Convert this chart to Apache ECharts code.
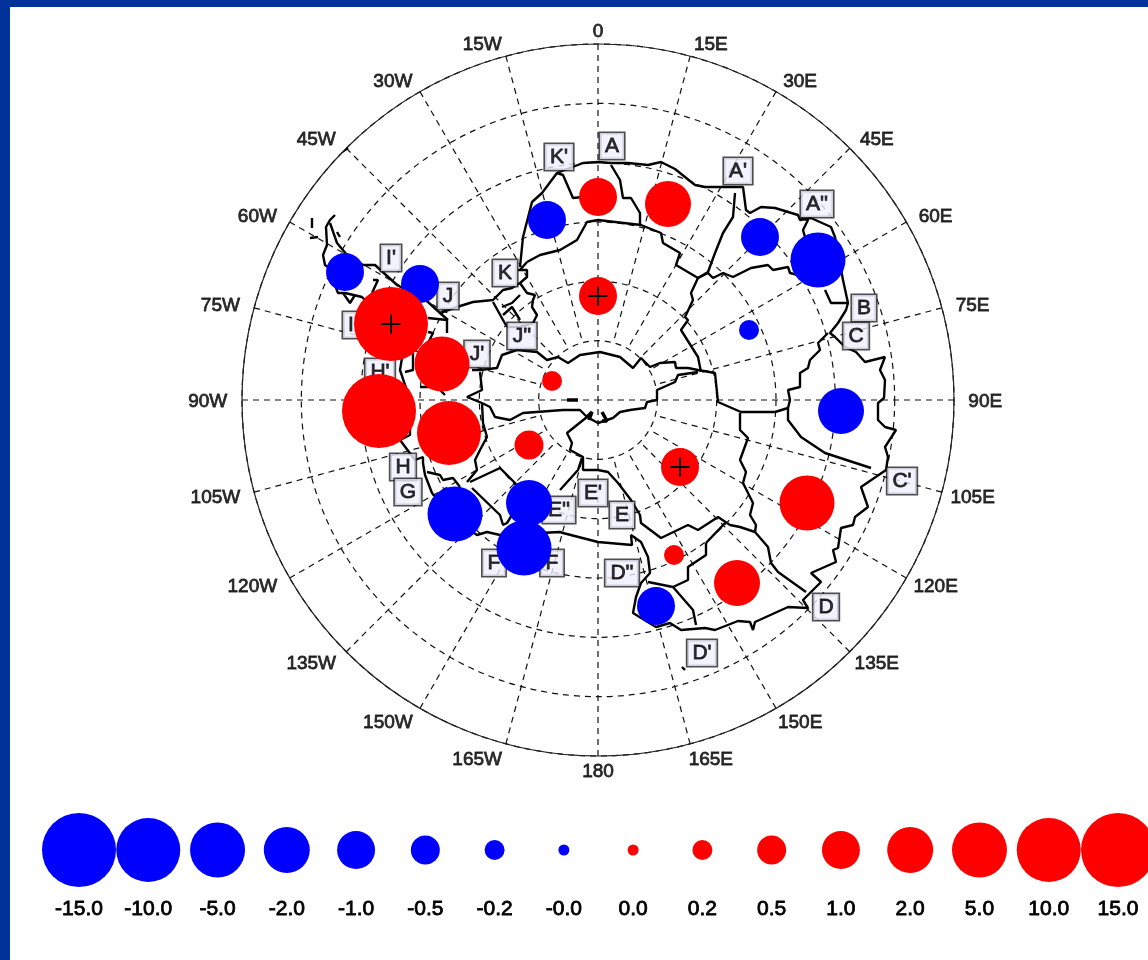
<!DOCTYPE html>
<html>
<head>
<meta charset="utf-8">
<title>Antarctic basins</title>
<script src="https://cdn.jsdelivr.net/npm/echarts@6/dist/echarts.min.js"></script>
<style>
html, body { margin: 0; padding: 0; background: #003399; }
#main { width: 1148px; height: 960px; }
</style>
</head>
<body>
<div id="main"></div>
<script>
// legend: value text, value, bubble diameter
var legendLabels = ['-15.0', '-10.0', '-5.0', '-2.0', '-1.0', '-0.5', '-0.2', '-0.0', '0.0', '0.2', '0.5', '1.0', '2.0', '5.0', '10.0', '15.0'];
var legendValues = [-15, -10, -5, -2, -1, -0.5, -0.2, -0.01, 0.01, 0.2, 0.5, 1, 2, 5, 10, 15];
var legendSizes = [74, 64, 55, 46, 38, 29, 20, 11, 11, 20, 29, 38, 46, 55, 64, 74];

// longitude labels, clockwise from 0
var lonLabels = ['0', '15E', '30E', '45E', '60E', '75E', '90E', '105E', '120E', '135E', '150E', '165E', '180', '165W', '150W', '135W', '120W', '105W', '90W', '75W', '60W', '45W', '30W', '15W'];

// map units: polar stereographic style x/y, outer ring (30 deg from the pole) is 356
var bubbleX = [0, 70, -51, 162, 220, 0, -253, -178, -207, -156, -46, 151, 243, -219, -149, -69, 82, 209, -143, -69, -74, 76, 139, 58];
var bubbleY = [203, 196, 180, 163, 140, 104, 128, 116, 76, 36, 19, 70, -11, -11, -33, -45, -67, -103, -114, -103, -148, -155, -183, -206];
var bubbleValues = [1, 2, -1, -1, -5, 1, -1, -1, 15, 5, 0.2, -0.2, -2, 15, 10, 0.5, 1, 5, -5, -2, -5, 0.2, 2, -1];
var significant = [5, 8, 16];

var basinNames = ['A', "K'", "A'", "A''", "I'", 'K', 'J', 'B', 'C', "J''", "J'", 'I', "H'", 'H', 'G', "E'", "E''", 'E', 'F', 'F', "D''", 'D', "D'", "C'"];
var basinX = [14, -39, 140, 219, -207, -93, -150, 266, 258, -76, -121, -247, -218, -195, -190, -5, -39, 24, -104, -46, 24, 228, 104, 304];
var basinY = [254, 243, 229, 196, 142, 127, 104, 92, 64, 64, 46, 75, 28, -67, -92, -93, -110, -115, -163, -163, -173, -207, -253, -81];

var coastEast = [[-15,237],[0,238],[13,237],[30,237],[50,235],[63,238],[77,231],[97,215],[107,213],[128,213],[138,213],[145,213],[148,190],[152,187],[163,193],[177,192],[200,185],[202,180],[213,182],[233,173],[237,163],[245,120],[250,97],[248,90],[240,77],[232,67],[237,63],[247,53],[258,48],[267,38],[287,43],[282,30],[287,20],[286,2],[280,-3],[280,-20],[287,-27],[298,-30],[287,-47],[290,-57],[288,-70],[263,-87],[270,-107],[257,-117],[255,-125],[243,-128],[240,-148],[235,-150],[238,-162],[213,-173],[223,-182],[205,-200],[210,-208],[190,-207],[157,-222],[155,-230],[152,-222],[140,-221],[117,-230],[107,-228],[83,-230],[72,-223],[58,-227],[35,-213],[38,-197],[43,-183],[52,-173],[50,-157],[43,-142],[33,-135],[34,-145],[0,-142],[-35,-133],[-38,-132],[-98,-135],[-111,-132],[-121,-135],[-143,-120],[-166,-93],[-173,-75],[-175,-63],[-175,-57],[-183,-60],[-198,-40],[-188,-35],[-188,0],[-198,30],[-193,60],[-236,103],[-253,107],[-260,107],[-270,133],[-273,135],[-275,145],[-271,155],[-272,173],[-268,180],[-263,185]];
var coastPeninsula = [[-268,177],[-261,157],[-251,145],[-235,135],[-223,135],[-201,115],[-170,98],[-158,87],[-141,93],[-125,98],[-105,100],[-95,110],[-86,112],[-78,117]];
var coastKing = [[-78,133],[-75,163],[-66,198],[-56,207],[-41,227],[-35,225],[-25,202],[-15,203]];
var coastKingTop = [[-41,227],[-15,237]];

var divideTop = [[-126,30],[-118,30],[-101,32],[-96,45],[-81,50],[-61,48],[-51,40],[-40,43],[-30,37],[-18,45],[2,48],[22,43],[35,32],[43,42],[52,33],[62,37],[77,38],[78,32],[90,32],[100,30],[117,27],[120,-2],[143,-12],[177,-12],[190,-8],[190,-20],[203,-37],[227,-53],[273,-68]];
var divideLow = [[-118,28],[-116,10],[-131,3],[-116,-3],[-108,-7],[-103,-17],[-88,-20],[-75,-13],[-35,-10],[-18,-10],[-11,-17],[0,-23],[15,-18],[22,-12],[32,-10],[47,-8],[49,-2],[59,0],[59,10],[77,18],[80,25],[100,28]];
var lineWest1 = [[-116,-3],[-115,-23],[-111,-37],[-118,-50],[-123,-60],[-121,-70],[-131,-82]];
var lineWest2 = [[-128,-82],[-98,-68],[-81,-85]];
var lineWest3 = [[-126,-88],[-98,-115],[-95,-125],[-91,-123],[-86,-115]];
var lineFG = [[-171,-72],[-158,-75],[-155,-80],[-145,-78],[-138,-87]];
var lineRoss = [[-11,-17],[-31,-33],[-26,-43],[-28,-50],[-15,-57],[-15,-70],[0,-70],[10,-72],[20,-83],[33,-100],[42,-115],[43,-123],[63,-138],[90,-125],[100,-130],[120,-117],[132,-125],[142,-127],[157,-132],[170,-147],[173,-163],[180,-172],[208,-192]];
var lineE = [[-16,-58],[-20,-70],[-38,-90]];
var lineD1 = [[108,-143],[127,-123]];
var lineD2 = [[108,-143],[108,-155],[90,-167],[90,-180],[75,-187],[50,-182]];
var lineD3 = [[75,-187],[95,-210],[98,-225]];
var lineC1 = [[142,-13],[142,-30],[150,-38],[142,-60],[148,-72],[145,-83],[155,-103],[152,-115],[158,-125],[157,-132]];
var lineC2 = [[230,67],[220,57],[222,50],[212,40],[210,32],[202,27],[202,13],[190,10],[192,0],[190,-8]];
var lineB = [[100,122],[93,107],[95,100],[87,83],[90,80],[83,70],[100,43],[103,28]];
var lineTop = [[-71,138],[-58,145],[-38,150],[-21,160],[-11,178],[0,180],[43,175],[63,167],[65,157],[82,147],[78,135],[100,122]];
var lineK1 = [[-78,130],[-71,138]];
var lineK2 = [[-80,130],[-71,130],[-71,123],[-78,117],[-71,107],[-63,105],[-65,100],[-66,93],[-61,85],[-65,77],[-78,73],[-91,73]];
var cell1 = [[-105,98],[-95,80],[-91,73]];
var cell2 = [[-96,93],[-86,97],[-78,105]];
var cell3 = [[-95,85],[-86,93],[-78,80]];
var lineA = [[13,235],[22,220],[25,202],[33,202],[42,187],[42,175]];
var lineA1 = [[137,207],[135,183],[125,167],[117,147],[110,128],[100,122]];
var lineA2 = [[100,122],[110,127],[115,122],[125,127],[135,123],[153,132],[170,135],[175,130],[190,133],[192,127],[200,125]];
var lineA3 = [[227,110],[233,97],[250,97]];
var lineA4 = [[203,182],[210,180],[205,170],[207,163]];
var lineI1 = [[-170,82],[-151,80],[-151,67]];
var lineI2 = [[-158,87],[-150,80]];
var lineI3 = [[-170,68],[-165,67],[-170,57]];
var lineH1 = [[-185,47],[-185,30],[-193,28]];
var lineH2 = [[-178,13],[-161,13],[-153,5]];
var hook = [[-225,120],[-220,120],[-226,107]];
var isle1 = [[-255,107],[-248,97],[-243,105]];
var isle2 = [[-286,182],[-286,172]];
var isle3 = [[-288,162],[-280,163]];
var isle4 = [[-261,168],[-258,163]];
var isle5 = [[-256,248],[-250,252]];
var isle6 = [[84,-267],[87,-270]];
var outlines = [coastEast, coastPeninsula, coastKing, coastKingTop, divideTop, divideLow, lineWest1, lineWest2, lineWest3, lineFG, lineRoss, lineE, lineD1, lineD2, lineD3, lineC1, lineC2, lineB, lineTop, lineK1, lineK2, cell1, cell2, cell3, lineA, lineA1, lineA2, lineA3, lineA4, lineI1, lineI2, lineI3, lineH1, lineH2, hook, isle1, isle2, isle3, isle4, isle5, isle6];

// heavier small bits near the pole
var poleWedge1 = [[-11,-17],[-6,-12],[-9,-20]];
var poleWedge2 = [[4,-12],[9,-21],[4,-21]];
var poleDash = [[-31,0],[-20,0]];
var heavy = [poleWedge1, poleWedge2, poleDash];

var UNITS_PER_DEG = 356 / 30;
var sizeOf = {};
legendValues.forEach(function (v, i) { sizeOf[v] = legendSizes[i]; });

// x/y map units -> [colatitude, longitude]
function toPolar(p) {
    var lon = Math.atan2(p[0], p[1]) * 180 / Math.PI;
    if (lon < 0) lon += 360;
    return [Math.sqrt(p[0] * p[0] + p[1] * p[1]) / UNITS_PER_DEG, lon];
}

var series = [];

// meridians, only the four main ones run into the pole
lonLabels.forEach(function (name, i) {
    var lon = i * 15;
    series.push({
        type: 'line', coordinateSystem: 'polar', polarIndex: 0, z: 1, silent: true,
        symbol: 'none', clip: false,
        lineStyle: { color: '#111', width: 1.2, type: [6, 5] },
        data: [[30, lon], [i % 6 == 0 ? 0 : 5, lon]]
    });
});

outlines.forEach(function (line) {
    series.push({
        type: 'line', coordinateSystem: 'polar', polarIndex: 0, z: 3, silent: true,
        symbol: 'none', clip: false,
        lineStyle: { color: '#000', width: 2.4 },
        data: line.map(toPolar)
    });
});
heavy.forEach(function (line) {
    series.push({
        type: 'line', coordinateSystem: 'polar', polarIndex: 0, z: 3, silent: true,
        symbol: 'none', clip: false,
        lineStyle: { color: '#000', width: 3.5 },
        data: line.map(toPolar)
    });
});

// longitude text
series.push({
    type: 'scatter', coordinateSystem: 'polar', polarIndex: 0, z: 4, silent: true,
    symbolSize: 0, clip: false,
    data: lonLabels.map(function (name, i) {
        var off = 0;
        if (name.indexOf('E') > 0) off = 17;
        if (name.indexOf('W') > 0) off = name.length > 3 ? -25 : -20;
        return {
            value: [31.2, i * 15], name: name,
            label: { show: true, position: 'inside', formatter: name, offset: [off, 2], color: '#000', fontFamily: 'Liberation Sans', fontSize: 19, textBorderColor: '#000', textBorderWidth: 0.8 }
        };
    })
});

// basin letters
series.push({
    type: 'scatter', coordinateSystem: 'polar', polarIndex: 0, z: 4, silent: true,
    symbolSize: 0, clip: false,
    data: basinNames.map(function (name, i) {
        return {
            value: toPolar([basinX[i], basinY[i]]), name: name,
            label: {
                show: true, position: 'inside', formatter: name, color: '#000',
                fontFamily: 'Liberation Sans', fontSize: 21, lineHeight: 20,
                backgroundColor: '#f0f0ff', borderColor: '#222', borderWidth: 1.6, padding: [3, 5],
                textBorderColor: '#000', textBorderWidth: 0.8
            }
        };
    })
});

// bubbles
series.push({
    type: 'scatter', coordinateSystem: 'polar', polarIndex: 0, z: 5, silent: true, clip: false,
    symbol: 'circle',
    data: bubbleValues.map(function (v, i) {
        return {
            value: toPolar([bubbleX[i], bubbleY[i]]),
            symbolSize: sizeOf[v],
            itemStyle: { color: v < 0 ? '#0000ff' : '#ff0000', opacity: 1 }
        };
    })
});

// plus signs on the significant ones
series.push({
    type: 'scatter', coordinateSystem: 'polar', polarIndex: 0, z: 6, silent: true, clip: false,
    symbol: 'path://M9 0h2v9h9v2h-9v9h-2v-9h-9v-2h9z', symbolSize: 19,
    itemStyle: { color: '#000', opacity: 1 },
    data: significant.map(function (i) { return toPolar([bubbleX[i], bubbleY[i]]); })
});

// size legend
series.push({
    type: 'scatter', xAxisIndex: 0, yAxisIndex: 0, z: 5, silent: true, clip: false,
    symbol: 'circle',
    data: legendValues.map(function (v, i) {
        return {
            value: [i, 0],
            symbolSize: legendSizes[i],
            itemStyle: { color: v < 0 ? '#0000ff' : '#ff0000', opacity: 1 }
        };
    })
});

var option = {
    animation: false,
    backgroundColor: '#003399',
    graphic: {
        elements: [{
            type: 'rect', z: -10, silent: true,
            shape: { x: 10, y: 7, width: 1138, height: 953 },
            style: { fill: '#ffffff' }
        }]
    },
    polar: { center: [598, 400], radius: 356 },
    angleAxis: {
        type: 'value', min: 0, max: 360, interval: 15, startAngle: 90, clockwise: true,
        axisLine: { show: true, lineStyle: { color: '#222', width: 1.2 } },
        axisTick: { show: false }, axisLabel: { show: false }, splitLine: { show: false }
    },
    radiusAxis: {
        type: 'value', min: 0, max: 30, interval: 5,
        axisLine: { show: false }, axisTick: { show: false }, axisLabel: { show: false },
        splitLine: { show: true, lineStyle: { color: '#111', width: 1.2, type: [6, 5] } }
    },
    grid: { left: 79, top: 813, width: 1039, height: 74, containLabel: false },
    xAxis: {
        type: 'category', data: legendLabels, boundaryGap: false,
        axisLine: { show: false }, axisTick: { show: false }, splitLine: { show: false },
        axisLabel: { interval: 0, margin: 12, color: '#000', fontFamily: 'Liberation Sans', fontSize: 21, textBorderColor: '#000', textBorderWidth: 0.8, showMinLabel: true, showMaxLabel: true }
    },
    yAxis: { type: 'value', min: -1, max: 1, show: false },
    series: series
};

var myChart = echarts.init(document.getElementById('main'), null, { renderer: 'canvas' });
myChart.setOption(option);
</script>
</body>
</html>
